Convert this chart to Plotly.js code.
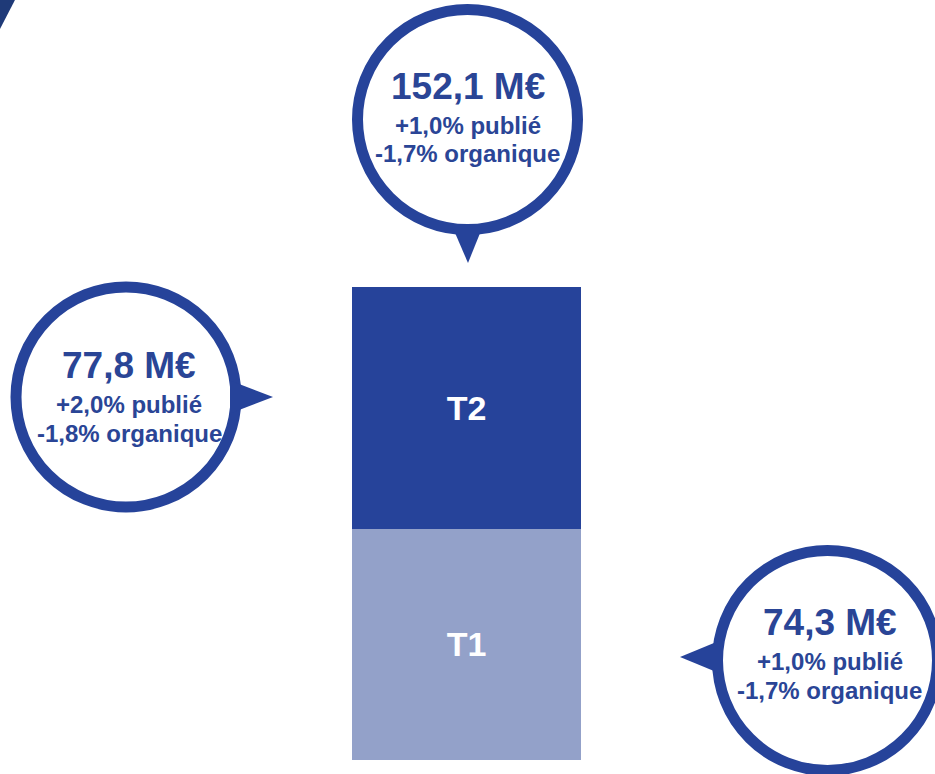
<!DOCTYPE html>
<html>
<head>
<meta charset="utf-8">
<script src="https://cdn.plot.ly/plotly-3.0.1.min.js"></script>
<style>html,body{margin:0;padding:0;background:#fff;}#chart{width:935px;height:774px;}</style>
</head>
<body>
<div id="chart"></div>
<script>
// ---- data ----
var categories = ["S1"];
var seriesNames = ["T1", "T2"];
var t1Values = [74.3];
var t2Values = [77.8];
var totalValue = 152.1;
var t1Labels = ["74,3 M€", "+1,0% publié", "-1,7% organique"];
var t2Labels = ["77,8 M€", "+2,0% publié", "-1,8% organique"];
var totalLabels = ["152,1 M€", "+1,0% publié", "-1,7% organique"];

var DARK = "#26439a";
var LIGHT = "#93a1c9";
var TEXT = "#2a4596";
var FONT = "Liberation Sans, Arial, sans-serif";
var BARFONT = "Liberation Sans Narrow, Liberation Sans, Arial, sans-serif";

var traces = [
  {type: "bar", name: seriesNames[0], x: [0], y: t1Values, width: [0.5],
   marker: {color: LIGHT}, text: [seriesNames[0]], textposition: "inside",
   insidetextanchor: "middle", constraintext: "none", textangle: 0,
   textfont: {family: BARFONT, size: 34, color: "#ffffff", weight: "bold"}, hoverinfo: "skip"},
  {type: "bar", name: seriesNames[1], x: [0], y: t2Values, width: [0.5],
   marker: {color: DARK}, text: [seriesNames[1]], textposition: "inside",
   insidetextanchor: "middle", constraintext: "none", textangle: 0,
   textfont: {family: BARFONT, size: 34, color: "#ffffff", weight: "bold"}, hoverinfo: "skip"}
];

var t1Mid = t1Values[0] / 2;
var t2Mid = t1Values[0] + t2Values[0] / 2;

function circle(xa, ya, x0, x1, y0, y1) {
  return {type: "circle", xref: "x", yref: "y", xsizemode: "pixel", ysizemode: "pixel",
    xanchor: xa, yanchor: ya, x0: x0, x1: x1, y0: y0, y1: y1,
    line: {color: DARK, width: 11}, fillcolor: "rgba(255,255,255,0)", layer: "above"};
}
function tri(xa, ya, path) {
  return {type: "path", xref: "x", yref: "y", xsizemode: "pixel", ysizemode: "pixel",
    xanchor: xa, yanchor: ya, path: path, line: {width: 0}, fillcolor: DARK, layer: "above"};
}

var shapes = [
  // top callout (total)
  circle(0, totalValue, -109, 111, 57.5, 277.5),
  tri(0, totalValue, "M-14,60 L16,60 L1.5,24 Z"),
  // left callout (T2)
  circle(-0.25, t2Mid, -336, -116, -99, 121),
  tri(-0.25, t2Mid, "M-122,27.5 L-122,-5.5 L-79,11 Z"),
  // right callout (T1)
  circle(0.25, t1Mid, 136.5, 356.5, -126, 94),
  tri(0.25, t1Mid, "M139,4 L139,-29 L99,-12.5 Z"),
  // corner decoration
  {type: "path", xref: "paper", yref: "paper", path: "M0,1 L0.016,1 L0,0.9625 Z",
   line: {width: 0}, fillcolor: "#1f3a78"}
];

function lines(labels, xa, ya, xs, ys) {
  var sizes = [37, 24, 24];
  return labels.map(function (t, i) {
    return {x: xa, y: ya, xref: "x", yref: "y", text: t, showarrow: false,
      xshift: xs, yshift: ys[i], xanchor: "center", yanchor: "middle",
      font: {family: FONT, size: sizes[i], color: TEXT, weight: "bold"}};
  });
}

var annotations = []
  .concat(lines(totalLabels, 0, totalValue, 1, [201, 162, 133.5]))
  .concat(lines(t2Labels, -0.25, t2Mid, -223, [42, 3, -25.5]))
  .concat(lines(t1Labels, 0.25, t1Mid, 248.5, [21.5, -17, -46]));

var layout = {
  width: 935, height: 774,
  margin: {l: 0, r: 0, t: 0, b: 0, pad: 0},
  paper_bgcolor: "#ffffff", plot_bgcolor: "#ffffff",
  barmode: "stack", showlegend: false,
  xaxis: {range: [-1.01856, 1.02292], visible: false, fixedrange: true},
  yaxis: {range: [-4.502, 244.39], visible: false, fixedrange: true},
  shapes: shapes, annotations: annotations
};

Plotly.newPlot("chart", traces, layout, {staticPlot: true, displayModeBar: false});
</script>
</body>
</html>
